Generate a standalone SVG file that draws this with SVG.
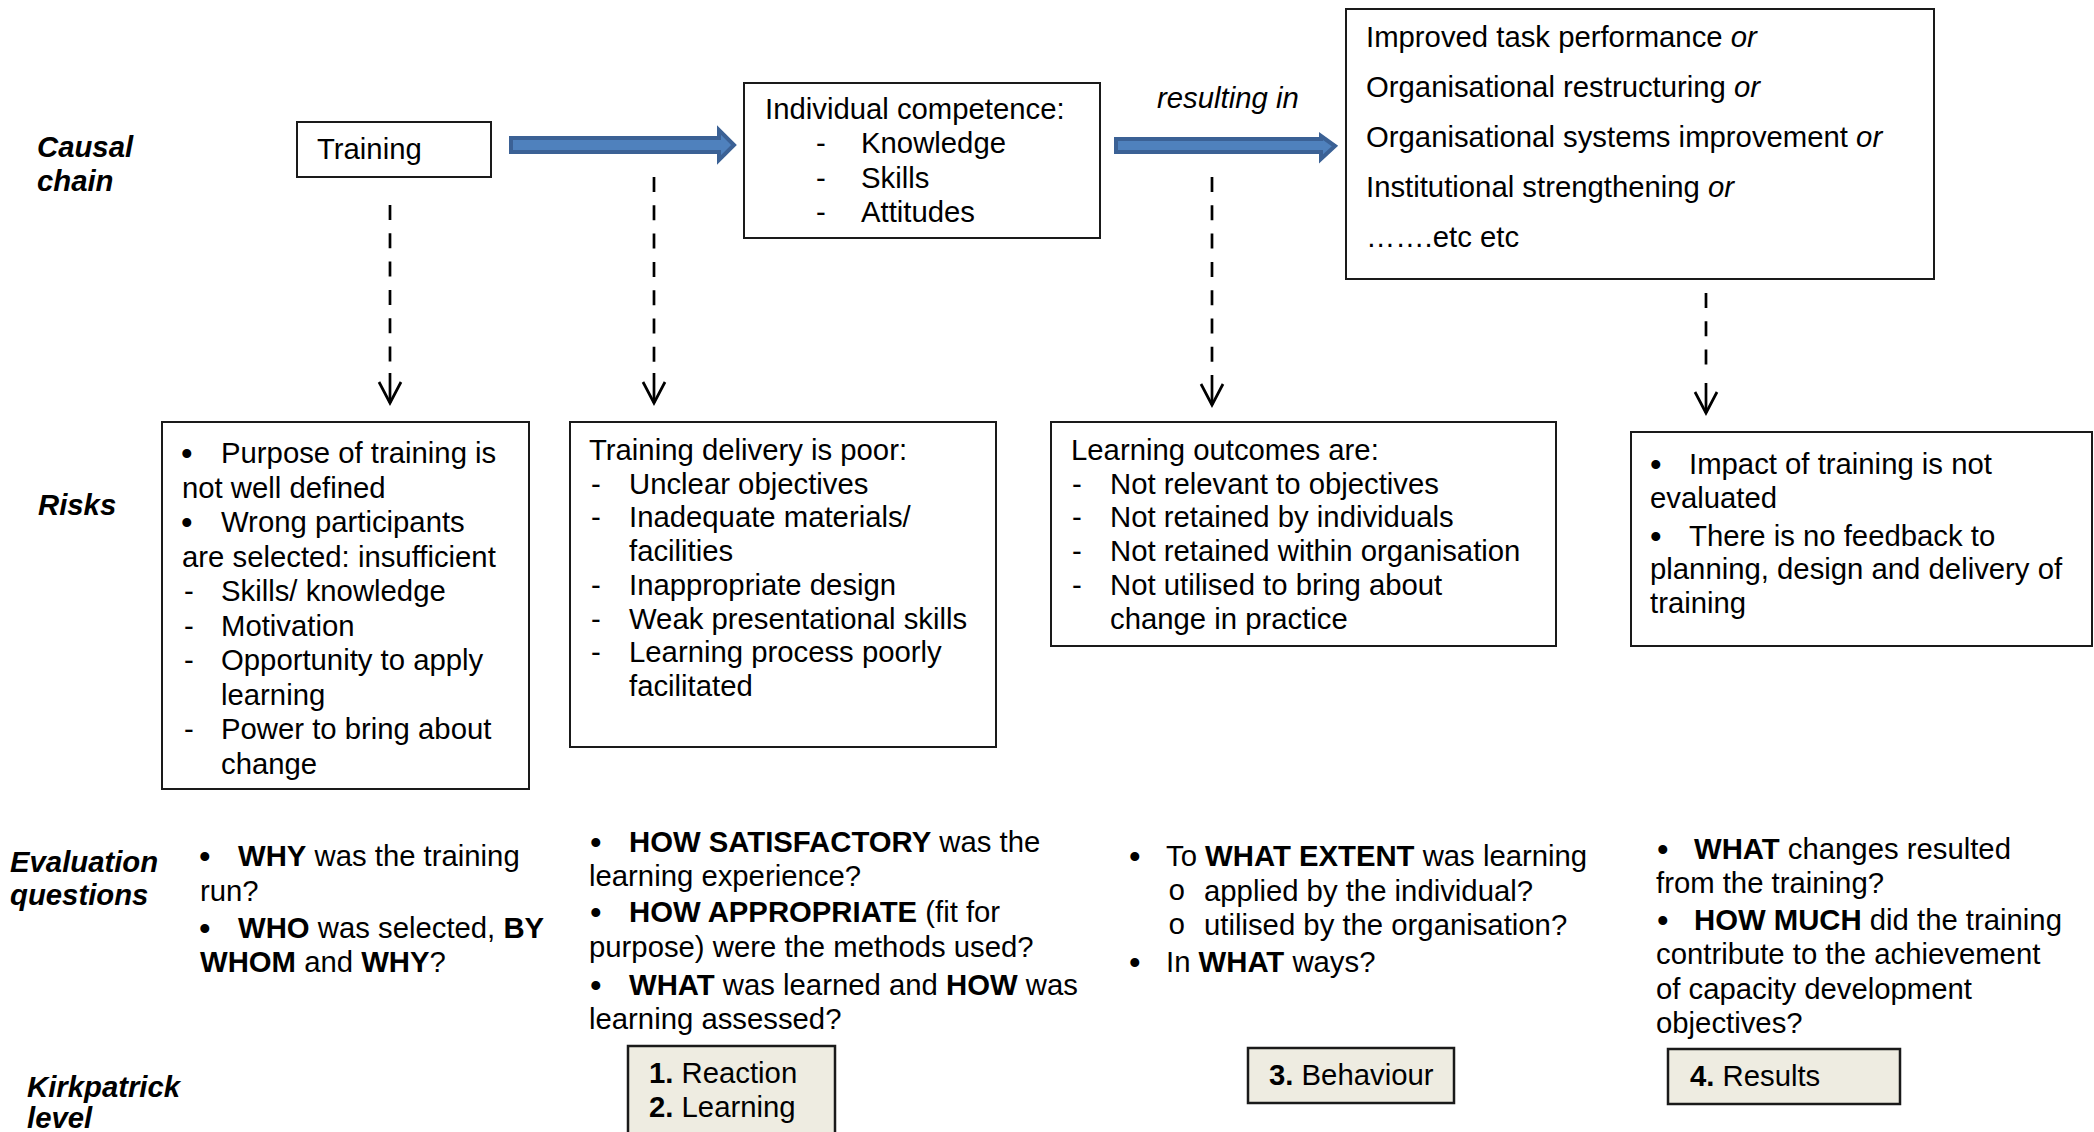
<svg xmlns="http://www.w3.org/2000/svg" width="2094" height="1132" viewBox="0 0 2094 1132">
<defs>
<style>
text{font-family:"Liberation Sans",Arial,sans-serif;font-size:29.3px;fill:#000}
.lbl{font-weight:bold;font-style:italic}
.b{font-weight:bold}
.i{font-style:italic}
.bul{font-size:33px}
.box{fill:#fff;stroke:#1a1a1a;stroke-width:2}
.kp{fill:#EEECE1;stroke:#1a1a1a;stroke-width:2.5}
.blue{fill:#4F81BD;stroke:#3B6195;stroke-width:4;stroke-linejoin:miter}
.dash{fill:none;stroke:#000;stroke-width:2.7;stroke-dasharray:15 13.3}
.solid{fill:none;stroke:#000;stroke-width:2.7}
.mono{font-family:"Liberation Mono","Courier New",monospace}
</style>
<marker id="vhead" markerUnits="userSpaceOnUse" markerWidth="30" markerHeight="30" refX="0" refY="0" orient="auto" overflow="visible">
<path d="M-21,-11 L0,0 L-21,11" fill="none" stroke="#000" stroke-width="2.7"/>
</marker>
</defs>
<rect width="2094" height="1132" fill="#fff"/>

<g id="row-labels">
<text class="lbl" x="37" y="157">Causal</text>
<text class="lbl" x="37" y="191">chain</text>
<text class="lbl" x="38" y="515">Risks</text>
<text class="lbl" x="10" y="872">Evaluation</text>
<text class="lbl" x="10" y="905">questions</text>
<text class="lbl" x="27" y="1097">Kirkpatrick</text>
<text class="lbl" x="27" y="1128">level</text>
</g>

<g id="connectors">
<path class="blue" d="M511,138 L719,138 L719,130 L734,145 L719,160 L719,152 L511,152 Z"/>
<path class="blue" d="M1116,139 L1321,139 L1321,136 L1335,146 L1321,159 L1321,152 L1116,152 Z"/>
<text class="i" x="1157" y="108">resulting in</text>
<line class="dash" x1="390" y1="205" x2="390" y2="362"/>
<line class="solid" x1="390" y1="373" x2="390" y2="403" marker-end="url(#vhead)"/>
<line class="dash" x1="654" y1="177" x2="654" y2="362"/>
<line class="solid" x1="654" y1="373" x2="654" y2="403" marker-end="url(#vhead)"/>
<line class="dash" x1="1212" y1="177" x2="1212" y2="362"/>
<line class="solid" x1="1212" y1="375" x2="1212" y2="405" marker-end="url(#vhead)"/>
<line class="dash" x1="1706" y1="293" x2="1706" y2="372"/>
<line class="solid" x1="1706" y1="383" x2="1706" y2="413" marker-end="url(#vhead)"/>
</g>

<g id="training">
<rect class="box" x="297" y="122" width="194" height="55"/>
<text x="317" y="159">Training</text>
</g>

<g id="competence">
<rect class="box" x="744" y="83" width="356" height="155"/>
<text x="765" y="119">Individual competence:</text>
<text x="816" y="153">-</text><text x="861" y="153">Knowledge</text>
<text x="816" y="188">-</text><text x="861" y="188">Skills</text>
<text x="816" y="222">-</text><text x="861" y="222">Attitudes</text>
</g>

<g id="outcomes">
<rect class="box" x="1346" y="9" width="588" height="270"/>
<text x="1366" y="47">Improved task performance <tspan class="i">or</tspan></text>
<text x="1366" y="97">Organisational restructuring <tspan class="i">or</tspan></text>
<text x="1366" y="147">Organisational systems improvement <tspan class="i">or</tspan></text>
<text x="1366" y="197">Institutional strengthening <tspan class="i">or</tspan></text>
<text x="1366" y="247">…….etc etc</text>
</g>

<g id="risk1">
<rect class="box" x="162" y="422" width="367" height="367"/>
<text class="bul" x="181" y="465">•</text><text x="221" y="463">Purpose of training is</text>
<text x="182" y="497.5">not well defined</text>
<text class="bul" x="181" y="534">•</text><text x="221" y="532">Wrong participants</text>
<text x="182" y="566.5">are selected: insufficient</text>
<text x="184" y="601">-</text><text x="221" y="601">Skills/ knowledge</text>
<text x="184" y="635.5">-</text><text x="221" y="635.5">Motivation</text>
<text x="184" y="670">-</text><text x="221" y="670">Opportunity to apply</text>
<text x="221" y="704.5">learning</text>
<text x="184" y="739">-</text><text x="221" y="739">Power to bring about</text>
<text x="221" y="773.5">change</text>
</g>

<g id="risk2">
<rect class="box" x="570" y="422" width="426" height="325"/>
<text x="589" y="460">Training delivery is poor:</text>
<text x="591" y="493.5">-</text><text x="629" y="493.5">Unclear objectives</text>
<text x="591" y="527">-</text><text x="629" y="527">Inadequate materials/</text>
<text x="629" y="561">facilities</text>
<text x="591" y="595">-</text><text x="629" y="595">Inappropriate design</text>
<text x="591" y="628.5">-</text><text x="629" y="628.5">Weak presentational skills</text>
<text x="591" y="662">-</text><text x="629" y="662">Learning process poorly</text>
<text x="629" y="696">facilitated</text>
</g>

<g id="risk3">
<rect class="box" x="1051" y="422" width="505" height="224"/>
<text x="1071" y="460">Learning outcomes are:</text>
<text x="1072" y="493.5">-</text><text x="1110" y="493.5">Not relevant to objectives</text>
<text x="1072" y="527">-</text><text x="1110" y="527">Not retained by individuals</text>
<text x="1072" y="561">-</text><text x="1110" y="561">Not retained within organisation</text>
<text x="1072" y="595">-</text><text x="1110" y="595">Not utilised to bring about</text>
<text x="1110" y="628.5">change in practice</text>
</g>

<g id="risk4">
<rect class="box" x="1631" y="432" width="461" height="214"/>
<text class="bul" x="1650" y="476">•</text><text x="1689" y="474">Impact of training is not</text>
<text x="1650" y="508">evaluated</text>
<text class="bul" x="1650" y="548">•</text><text x="1689" y="546">There is no feedback to</text>
<text x="1650" y="579">planning, design and delivery of</text>
<text x="1650" y="613">training</text>
</g>

<g id="eval1">
<text class="bul" x="199" y="868">•</text><text x="238" y="866"><tspan class="b">WHY</tspan> was the training</text>
<text x="200" y="901">run?</text>
<text class="bul" x="199" y="940">•</text><text x="238" y="938"><tspan class="b">WHO</tspan> was selected, <tspan class="b">BY</tspan></text>
<text x="200" y="972"><tspan class="b">WHOM</tspan> and <tspan class="b">WHY</tspan>?</text>
</g>

<g id="eval2">
<text class="bul" x="590" y="854">•</text><text x="629" y="852"><tspan class="b">HOW SATISFACTORY</tspan> was the</text>
<text x="589" y="886">learning experience?</text>
<text class="bul" x="590" y="924">•</text><text x="629" y="922"><tspan class="b">HOW APPROPRIATE</tspan> (fit for</text>
<text x="589" y="957">purpose) were the methods used?</text>
<text class="bul" x="590" y="997">•</text><text x="629" y="995"><tspan class="b">WHAT</tspan> was learned and <tspan class="b">HOW</tspan> was</text>
<text x="589" y="1029">learning assessed?</text>
</g>

<g id="eval3">
<text class="bul" x="1129" y="868">•</text><text x="1166" y="866">To <tspan class="b">WHAT EXTENT</tspan> was learning</text>
<text class="mono" x="1168" y="900">o</text><text x="1204" y="901">applied by the individual?</text>
<text class="mono" x="1168" y="934">o</text><text x="1204" y="935">utilised by the organisation?</text>
<text class="bul" x="1129" y="974">•</text><text x="1166" y="972">In <tspan class="b">WHAT</tspan> ways?</text>
</g>

<g id="eval4">
<text class="bul" x="1657" y="861">•</text><text x="1694" y="859"><tspan class="b">WHAT</tspan> changes resulted</text>
<text x="1656" y="893">from the training?</text>
<text class="bul" x="1657" y="932">•</text><text x="1694" y="930"><tspan class="b">HOW MUCH</tspan> did the training</text>
<text x="1656" y="964">contribute to the achievement</text>
<text x="1656" y="999">of capacity development</text>
<text x="1656" y="1033">objectives?</text>
</g>

<g id="kp1">
<rect class="kp" x="628" y="1046" width="207" height="100"/>
<text x="649" y="1083"><tspan class="b">1.</tspan> Reaction</text>
<text x="649" y="1117"><tspan class="b">2.</tspan> Learning</text>
</g>

<g id="kp3">
<rect class="kp" x="1248" y="1048" width="206" height="55"/>
<text x="1269" y="1085"><tspan class="b">3.</tspan> Behaviour</text>
</g>

<g id="kp4">
<rect class="kp" x="1668" y="1049" width="232" height="55"/>
<text x="1690" y="1086"><tspan class="b">4.</tspan> Results</text>
</g>
</svg>
